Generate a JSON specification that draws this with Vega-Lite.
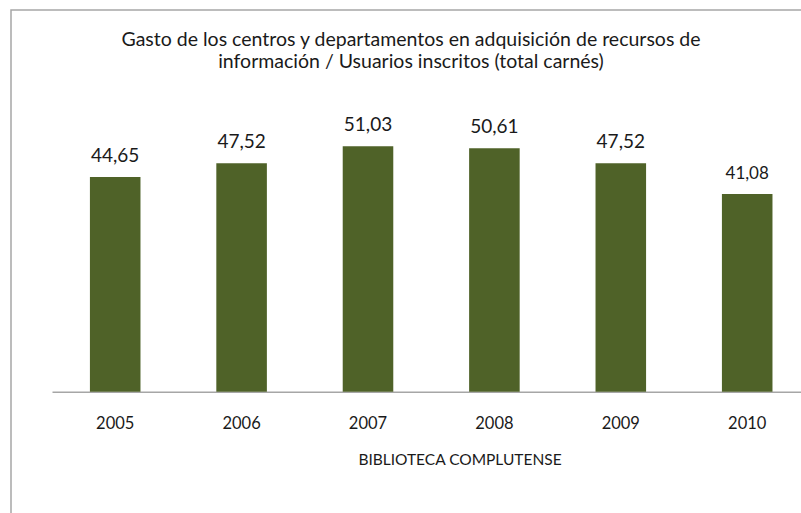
{
  "$schema": "https://vega.github.io/schema/vega-lite/v6.json",
  "autosize": "none",
  "width": 800,
  "height": 505,
  "padding": {"left": 11, "top": 10, "right": 0, "bottom": 0},
  "background": "white",
  "config": {
    "view": {"stroke": "#a6a6a6", "strokeWidth": 1.5},
    "font": "Lato",
    "locale": {"number": {"decimal": ",", "thousands": ".", "grouping": [3], "currency": ["", " €"]}}
  },
  "title": {
    "text": ["Gasto de los centros y departamentos en adquisición de recursos de", "información / Usuarios inscritos (total carnés)"],
    "orient": "top",
    "anchor": "middle",
    "frame": "group",
    "baseline": "top",
    "offset": -62,
    "fontSize": 19.5,
    "fontWeight": "normal",
    "lineHeight": 22,
    "color": "#1a1a1a",
    "font": "Lato"
  },
  "data": {
    "values": [
      {"year": "2005", "value": 44.65},
      {"year": "2006", "value": 47.52},
      {"year": "2007", "value": 51.03},
      {"year": "2008", "value": 50.61},
      {"year": "2009", "value": 47.52},
      {"year": "2010", "value": 41.08}
    ]
  },
  "encoding": {
    "x": {
      "field": "year",
      "type": "nominal",
      "sort": null,
      "scale": {"range": [41, 799.4], "paddingInner": 0.6, "paddingOuter": 0.3},
      "axis": {
        "title": "BIBLIOTECA COMPLUTENSE",
        "titleFont": "Lato",
        "titleFontSize": 15.5,
        "titleFontWeight": "normal",
        "titleColor": "#1a1a1a",
        "titleX": 448.5,
        "titlePadding": 20,
        "labelAngle": 0,
        "labelFont": "Lato",
        "labelFontSize": 16.5,
        "labelColor": "#1a1a1a",
        "labelPadding": 24,
        "ticks": false,
        "domainColor": "#a6a6a6",
        "domainWidth": 1.5,
        "grid": false,
        "offset": -123.3
      }
    },
    "y": {
      "field": "value",
      "type": "quantitative",
      "scale": {"domain": [0, 79.36], "range": [381.7, 0], "nice": false, "zero": true},
      "axis": null
    }
  },
  "layer": [
    {"mark": {"type": "bar", "color": "#4f6228"}},
    {
      "mark": {"type": "text", "baseline": "alphabetic", "dy": -15, "fontSize": 19, "color": "#1a1a1a", "font": "Lato"},
      "encoding": {
        "text": {"field": "value", "type": "quantitative", "format": ".2f"},
        "size": {"condition": {"test": "datum.year == '2010'", "value": 17}, "value": 19}
      }
    }
  ]
}
